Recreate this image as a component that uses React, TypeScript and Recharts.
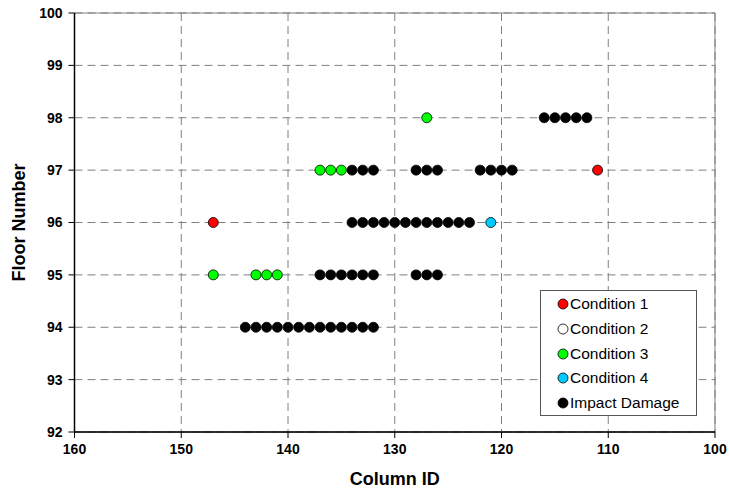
import { ScatterChart, Scatter, XAxis, YAxis, CartesianGrid, Legend, ReferenceArea } from 'recharts';

const xTicks = [160, 150, 140, 130, 120, 110, 100];
const yTicks = [92, 93, 94, 95, 96, 97, 98, 99, 100];

// column IDs with their floor, one pair per observed column
const cond1Cols = [147, 111];
const cond1Floors = [96, 97];

const cond2Cols: number[] = [];
const cond2Floors: number[] = [];

const cond3Cols = [127, 137, 136, 135, 147, 143, 142, 141];
const cond3Floors = [98, 97, 97, 97, 95, 95, 95, 95];

const cond4Cols = [121];
const cond4Floors = [96];

// impact damage per floor
const impact98 = [116, 115, 114, 113, 112];
const impact97 = [134, 133, 132, 128, 127, 126, 122, 121, 120, 119];
const impact96 = [134, 133, 132, 131, 130, 129, 128, 127, 126, 125, 124, 123];
const impact95 = [137, 136, 135, 134, 133, 132, 128, 127, 126];
const impact94 = [144, 143, 142, 141, 140, 139, 138, 137, 136, 135, 134, 133, 132];

const FONT = 'Arial, "Liberation Sans", sans-serif';

const pairs = (cols: number[], floors: number[]) =>
  cols.map((c, i) => ({ col: c, floor: floors[i] }));

const floorRow = (cols: number[], floor: number) => cols.map((c) => ({ col: c, floor }));

const impactData = [
  ...floorRow(impact98, 98),
  ...floorRow(impact97, 97),
  ...floorRow(impact96, 96),
  ...floorRow(impact95, 95),
  ...floorRow(impact94, 94),
];

const SERIES = [
  { name: 'Condition 1', color: '#ff0000', data: pairs(cond1Cols, cond1Floors) },
  { name: 'Condition 2', color: '#ffffff', data: pairs(cond2Cols, cond2Floors) },
  { name: 'Condition 3', color: '#00ff00', data: pairs(cond3Cols, cond3Floors) },
  { name: 'Condition 4', color: '#00ccff', data: pairs(cond4Cols, cond4Floors) },
  { name: 'Impact Damage', color: '#000000', data: impactData },
];

const dot = (color: string) => (props: any) => (
  <circle cx={props.cx} cy={props.cy} r={5} fill={color} stroke="#000" strokeWidth={0.8} />
);

const YTitle = (props: any) => {
  const { viewBox } = props;
  const x = 19;
  const y = viewBox.y + viewBox.height / 2;
  return (
    <text
      x={x}
      y={y}
      transform={`rotate(-90, ${x}, ${y})`}
      textAnchor="middle"
      dominantBaseline="central"
      fontFamily={FONT}
      fontWeight="bold"
      fontSize={18}
      fill="#000"
    >
      Floor Number
    </text>
  );
};

const renderLegend = () => (
  <div
    style={{
      boxSizing: 'border-box',
      width: 157,
      height: 126,
      border: '1px solid #555',
      background: '#fff',
      paddingTop: 1,
      fontFamily: FONT,
      fontSize: 15.5,
      color: '#000',
    }}
  >
    {SERIES.map((s) => (
      <div key={s.name} style={{ display: 'flex', alignItems: 'center', height: 24.7, paddingLeft: 16 }}>
        <svg width={12} height={12} style={{ marginRight: 1 }}>
          <circle cx={6} cy={6} r={5} fill={s.color} stroke="#000" strokeWidth={0.8} />
        </svg>
        <span>{s.name}</span>
      </div>
    ))}
  </div>
);

export default function App() {
  return (
    <div style={{ position: 'absolute', left: 0, top: 0, background: '#fff' }}>
      <ScatterChart width={730} height={495} margin={{ top: 13, right: 15, bottom: 0, left: 0 }}>
        <CartesianGrid stroke="#808080" strokeDasharray="8 5" />
        <ReferenceArea x1={160} x2={100} y1={92} y2={100} fill="none" stroke="#808080" strokeWidth={1} />
        <XAxis
          type="number"
          dataKey="col"
          domain={[100, 160]}
          reversed
          ticks={xTicks}
          interval={0}
          height={63}
          tickSize={6}
          tickMargin={6}
          axisLine={{ stroke: '#000', strokeWidth: 1.5 }}
          tickLine={{ stroke: '#000' }}
          tick={{ fill: '#000', fontFamily: FONT, fontWeight: 'bold', fontSize: 14 }}
          label={{
            value: 'Column ID',
            position: 'insideBottom',
            offset: 10,
            fill: '#000',
            fontFamily: FONT,
            fontWeight: 'bold',
            fontSize: 18,
          }}
        />
        <YAxis
          type="number"
          dataKey="floor"
          domain={[92, 100]}
          ticks={yTicks}
          interval={0}
          width={74.5}
          tickSize={6}
          tickMargin={6}
          axisLine={{ stroke: '#000', strokeWidth: 1.5 }}
          tickLine={{ stroke: '#000' }}
          tick={{ fill: '#000', fontFamily: FONT, fontWeight: 'bold', fontSize: 14 }}
          label={<YTitle />}
        />
        {SERIES.map((s) => (
          <Scatter
            key={s.name}
            name={s.name}
            data={s.data}
            fill={s.color}
            shape={dot(s.color)}
            isAnimationActive={false}
          />
        ))}
        <Legend
          layout="vertical"
          align="center"
          verticalAlign="middle"
          content={renderLegend}
          wrapperStyle={{ left: 540, top: 290, width: 157, height: 126 }}
        />
      </ScatterChart>
    </div>
  );
}
